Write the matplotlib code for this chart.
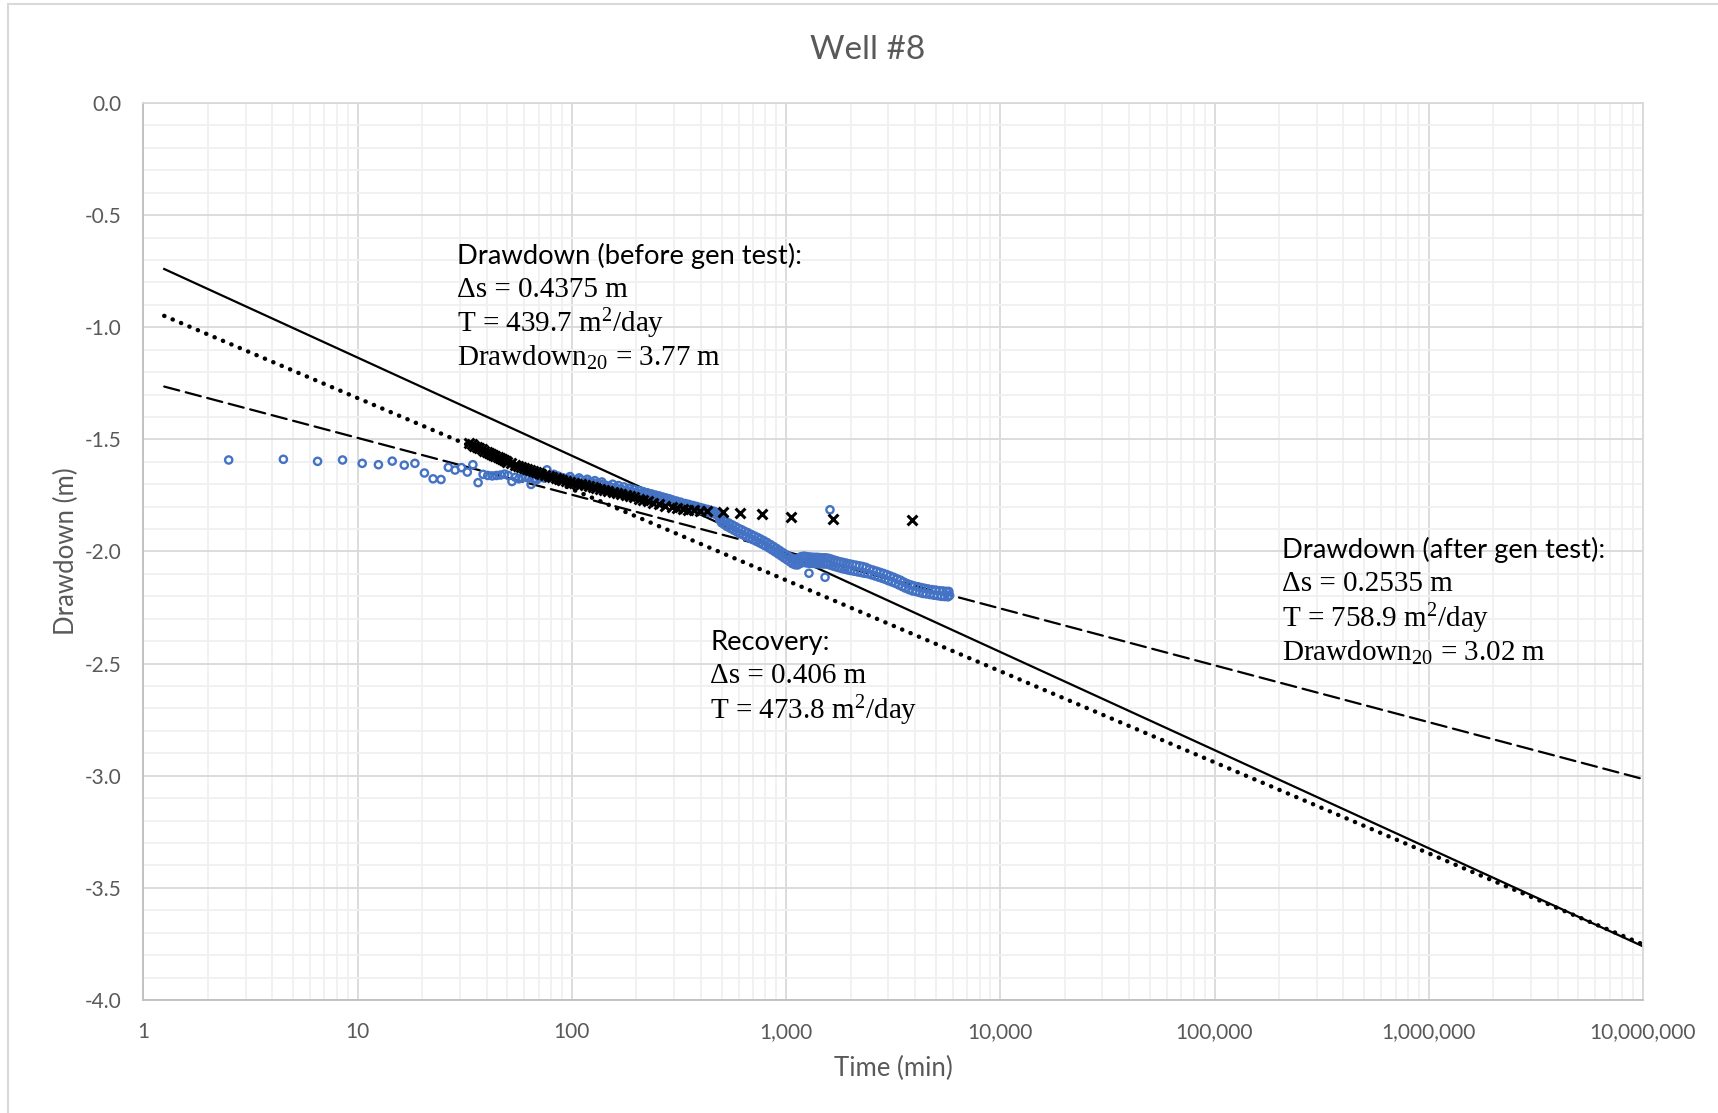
import matplotlib
matplotlib.use("Agg")
import matplotlib.pyplot as plt
import numpy as np
from matplotlib.patches import Rectangle
from matplotlib.ticker import FuncFormatter, LogLocator, MultipleLocator, NullFormatter

plt.rcParams["font.family"] = ["Lato", "DejaVu Sans"]
plt.rcParams["mathtext.default"] = "regular"

# drawdown in well #8 during the pumping test (time in min, drawdown in m)
drawdown_t = [2.5, 4.5, 6.5, 8.5, 10.5, 12.5, 14.5, 16.5, 18.5, 20.5,
              22.5, 24.5, 26.5, 28.5, 30.5, 32.5, 34.5, 36.5, 38.5, 40.5,
              42.5, 44.5, 46.5, 48.5, 50.5, 52.5, 54.5, 56.5, 58.5, 60.5,
              62.5, 64.5, 66.5, 68.5, 70.5, 72.5, 74.5, 76.5, 78.5, 80.5,
              82.5, 84.5, 86.5, 88.5, 90.5, 95, 98, 100, 105, 108,
              110, 115, 118, 120, 125, 128, 130, 135, 138, 140,
              145, 150, 155, 160, 165, 170, 175, 180, 185, 190,
              195, 200, 205, 210, 215, 220, 225, 230, 235, 240,
              245, 250, 255, 260, 265, 270, 275, 280, 285, 290,
              295, 300, 308, 315, 322, 330, 338, 345, 352, 360,
              368, 375, 382, 390, 398, 405, 412, 420, 428, 435,
              442, 450, 458, 465, 472, 480, 485, 490, 495, 500,
              508, 515, 522, 530, 540, 550, 560, 570, 580, 590,
              600, 610, 620, 630, 640, 650, 662, 675, 688, 700,
              712, 725, 738, 750, 762, 775, 788, 800, 815, 830,
              845, 860, 875, 890, 905, 920, 935, 950, 965, 980,
              995, 1010, 1025, 1040, 1055, 1070, 1085, 1100, 1115, 1130,
              1145, 1160, 1175, 1190, 1205, 1220, 1235, 1250, 1270, 1279,
              1290, 1310, 1330, 1350, 1370, 1390, 1410, 1430, 1450, 1475,
              1500, 1520, 1525, 1550, 1575, 1600, 1603, 1625, 1650, 1675,
              1700, 1730, 1760, 1790, 1820, 1850, 1880, 1910, 1940, 1970,
              2000, 2040, 2080, 2120, 2160, 2200, 2240, 2280, 2320, 2360,
              2400, 2450, 2500, 2550, 2600, 2650, 2700, 2750, 2800, 2850,
              2900, 2950, 3000, 3060, 3120, 3180, 3240, 3300, 3360, 3420,
              3480, 3540, 3600, 3675, 3750, 3825, 3900, 3975, 4050, 4125,
              4200, 4275, 4350, 4425, 4500, 4600, 4700, 4800, 4900, 5000,
              5100, 5200, 5300, 5400, 5500, 5600, 5700, 5750, 5800]
drawdown_s = [-1.592, -1.589, -1.598, -1.592, -1.607, -1.613, -1.597, -1.615, -1.607, -1.650,
              -1.676, -1.679, -1.625, -1.637, -1.626, -1.646, -1.613, -1.693, -1.656, -1.661,
              -1.663, -1.661, -1.659, -1.655, -1.661, -1.688, -1.669, -1.676, -1.671, -1.668,
              -1.672, -1.701, -1.676, -1.680, -1.670, -1.668, -1.673, -1.636, -1.662, -1.667,
              -1.656, -1.670, -1.664, -1.676, -1.671, -1.674, -1.666, -1.678, -1.682, -1.672,
              -1.680, -1.688, -1.678, -1.690, -1.693, -1.684, -1.697, -1.701, -1.690, -1.700,
              -1.706, -1.710, -1.700, -1.714, -1.706, -1.722, -1.712, -1.727, -1.718, -1.733,
              -1.723, -1.737, -1.728, -1.744, -1.733, -1.748, -1.738, -1.754, -1.743, -1.758,
              -1.748, -1.763, -1.752, -1.767, -1.757, -1.772, -1.761, -1.776, -1.765, -1.780,
              -1.770, -1.784, -1.775, -1.789, -1.780, -1.795, -1.786, -1.800, -1.790, -1.804,
              -1.795, -1.808, -1.799, -1.813, -1.804, -1.817, -1.808, -1.821, -1.812, -1.825,
              -1.816, -1.829, -1.820, -1.833, -1.825, -1.840, -1.830, -1.858, -1.848, -1.872,
              -1.856, -1.880, -1.865, -1.889, -1.873, -1.897, -1.881, -1.905, -1.889, -1.913,
              -1.897, -1.920, -1.903, -1.926, -1.910, -1.933, -1.916, -1.940, -1.924, -1.947,
              -1.931, -1.954, -1.938, -1.961, -1.945, -1.968, -1.952, -1.975, -1.960, -1.984,
              -1.969, -1.993, -1.978, -2.002, -1.987, -2.011, -1.996, -2.020, -2.005, -2.029,
              -2.013, -2.037, -2.021, -2.045, -2.029, -2.054, -2.033, -2.059, -2.035, -2.060,
              -2.030, -2.054, -2.023, -2.049, -2.021, -2.049, -2.022, -2.051, -2.024, -2.097,
              -2.053, -2.025, -2.053, -2.026, -2.054, -2.026, -2.055, -2.027, -2.055, -2.028,
              -2.056, -2.115, -2.028, -2.056, -2.030, -2.060, -1.814, -2.034, -2.064, -2.038,
              -2.068, -2.042, -2.072, -2.046, -2.076, -2.049, -2.079, -2.052, -2.082, -2.055,
              -2.085, -2.058, -2.088, -2.061, -2.091, -2.064, -2.094, -2.067, -2.097, -2.071,
              -2.099, -2.078, -2.104, -2.083, -2.109, -2.088, -2.114, -2.093, -2.119, -2.098,
              -2.124, -2.103, -2.130, -2.109, -2.136, -2.115, -2.142, -2.122, -2.149, -2.128,
              -2.156, -2.136, -2.163, -2.143, -2.170, -2.149, -2.176, -2.154, -2.179, -2.157,
              -2.183, -2.161, -2.187, -2.164, -2.189, -2.167, -2.192, -2.170, -2.195, -2.172,
              -2.197, -2.175, -2.200, -2.176, -2.201, -2.178, -2.202, -2.178, -2.196]

# recovery readings after the pump was switched off
recovery_t = [33, 34, 35, 36, 37, 38, 39, 40, 41, 42,
              43, 44, 45, 46, 47, 48, 49, 50, 52, 54,
              56, 58, 60, 62, 64, 66, 68, 70, 72, 75,
              78, 81, 84, 87, 90, 94, 98, 102, 106, 110,
              115, 120, 125, 130, 136, 142, 148, 155, 162, 170,
              178, 186, 195, 205, 215, 226, 240, 255, 272, 292,
              310, 331, 350, 373, 398, 426, 506, 609, 769, 1050,
              1650, 3857]
recovery_s = [-1.515, -1.522, -1.528, -1.534, -1.540, -1.545, -1.550, -1.556, -1.562, -1.566,
              -1.571, -1.575, -1.580, -1.584, -1.588, -1.592, -1.596, -1.600, -1.607, -1.613,
              -1.619, -1.624, -1.629, -1.634, -1.638, -1.643, -1.647, -1.651, -1.654, -1.659,
              -1.664, -1.668, -1.672, -1.676, -1.680, -1.684, -1.689, -1.693, -1.697, -1.700,
              -1.704, -1.708, -1.712, -1.716, -1.721, -1.725, -1.729, -1.734, -1.739, -1.744,
              -1.749, -1.754, -1.759, -1.765, -1.770, -1.776, -1.784, -1.790, -1.795, -1.802,
              -1.806, -1.810, -1.814, -1.817, -1.819, -1.821, -1.825, -1.827, -1.832, -1.844,
              -1.854, -1.859]

# Cooper-Jacob straight lines: s = a + ds * log10(t)
fit_ds = [0.4375, 0.406, 0.2535]      # before gen test, recovery, after gen test
fit_a = [0.698, 0.910, 1.240]
fit_styles = ["-", (0, (0.05, 2.0)), (0, (7, 3))]
fit_widths = [1.6, 3.2, 1.6]
fit_t = np.array([1.25, 1.0e7])

x_ticks = [1, 10, 100, 1000, 10000, 100000, 1000000, 10000000]

fig = plt.figure(figsize=(17.18, 11.13), dpi=100)
ax = fig.add_axes([0.0835, 0.1015, 0.8728, 0.806])

# chart area border
fig.patches.append(Rectangle((8 / 1718, -0.05), 1.2, 1.05 - 4 / 1113,
                             transform=fig.transFigure, fill=False,
                             edgecolor="#d9d9d9", linewidth=1.5))

ax.scatter(drawdown_t, drawdown_s, s=27, facecolors="none", edgecolors="#4472c4",
           linewidths=1.7, zorder=3)
ax.scatter(recovery_t, recovery_s, s=50, marker="x", color="black",
           linewidths=2.2, zorder=4)

for ds, a, ls, lw in zip(fit_ds, fit_a, fit_styles, fit_widths):
    ax.plot(fit_t, -(a + ds * np.log10(fit_t)), color="black", linestyle=ls,
            linewidth=lw, dash_capstyle="round", zorder=2.5)

ax.set_xscale("log")
ax.set_xlim(1, 1e7)
ax.set_ylim(-4.0, 0.0)
ax.set_xticks(x_ticks)
ax.xaxis.set_major_formatter(FuncFormatter(lambda v, p: f"{v:,.0f}"))
ax.xaxis.set_minor_locator(LogLocator(base=10, subs=np.arange(2, 10), numticks=20))
ax.xaxis.set_minor_formatter(NullFormatter())
ax.yaxis.set_major_locator(MultipleLocator(0.5))
ax.yaxis.set_minor_locator(MultipleLocator(0.1))
ax.yaxis.set_major_formatter(FuncFormatter(lambda v, p: f"{v:.1f}"))

ax.grid(which="major", color="#d9d9d9", linewidth=1.3)
ax.grid(which="minor", color="#f0f0f0", linewidth=1.3)
ax.set_axisbelow(True)
ax.tick_params(which="both", length=0, labelsize=15, labelcolor="#595959")
ax.tick_params(axis="x", pad=16)
ax.tick_params(axis="y", pad=16)
for side in ["top", "right"]:
    ax.spines[side].set_color("#d9d9d9")
for side in ["left", "bottom"]:
    ax.spines[side].set_color("#bfbfbf")
for sp in ax.spines.values():
    sp.set_linewidth(1.3)

ax.set_xlabel("Time (min)", fontsize=18.5, color="#595959", labelpad=10)
ax.set_ylabel("Drawdown (m)", fontsize=18.5, color="#595959", labelpad=4)
fig.text(0.505, 0.955, "Well #8", ha="center", va="center", fontsize=24, color="#595959")

serif = "Liberation Serif"
notes = [
    (29.1, -0.68, "Drawdown (before gen test):",
     ["Δs = 0.4375 m", "T = 439.7 m$^{2}$/day", "Drawdown$_{20}$ = 3.77 m"]),
    (10 ** 5.315, -1.995, "Drawdown (after gen test):",
     ["Δs = 0.2535 m", "T = 758.9 m$^{2}$/day", "Drawdown$_{20}$ = 3.02 m"]),
    (10 ** 2.645, -2.405, "Recovery:",
     ["Δs = 0.406 m", "T = 473.8 m$^{2}$/day"]),
]
for x, y, head, lines in notes:
    ax.text(x, y, head, fontsize=19.7, color="black", va="center", ha="left", zorder=6)
    for i, line in enumerate(lines):
        ax.text(x, y - 0.152 * (i + 1), line, fontsize=21, family=serif,
                color="black", va="center", ha="left", zorder=6)

fig.savefig("out.png", dpi=100)
